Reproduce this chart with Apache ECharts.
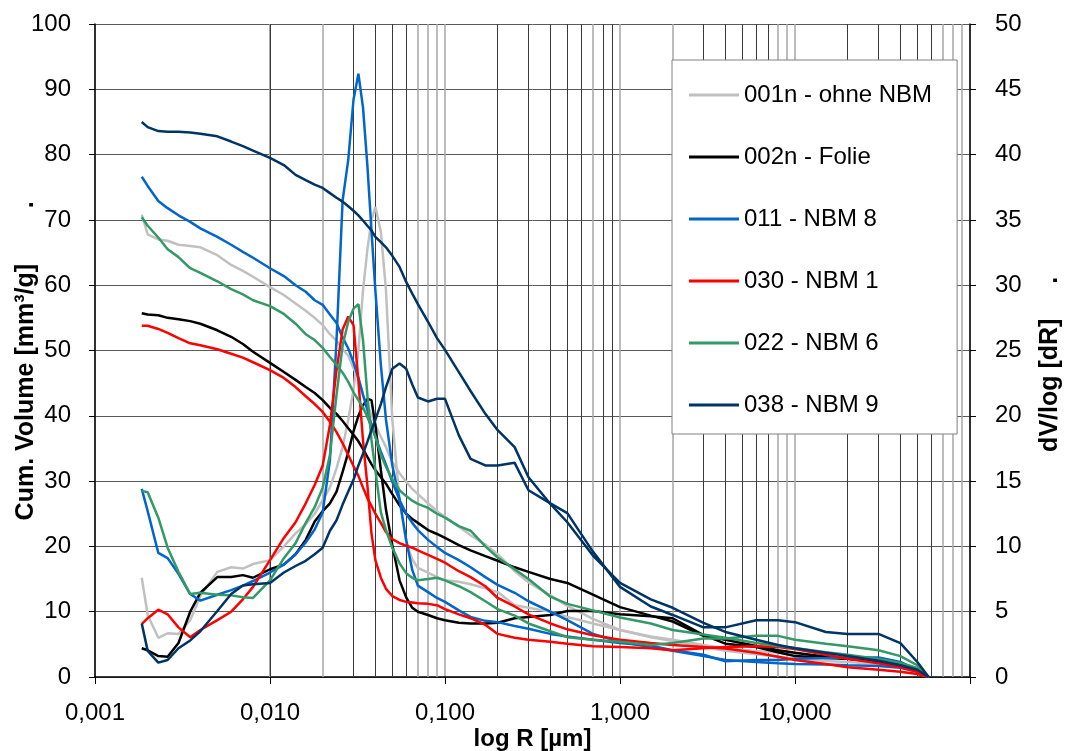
<!DOCTYPE html>
<html>
<head>
<meta charset="utf-8">
<script src="https://cdn.jsdelivr.net/npm/echarts@6/dist/echarts.min.js"></script>
<style>
html,body{margin:0;padding:0;background:#ffffff;}
#chart{width:1065px;height:751px;}
</style>
</head>
<body>
<div id="chart"></div>
<script>
// Pore radius R [µm] (shared sampling positions)
const radius = [0.00185, 0.002, 0.0023, 0.0026, 0.003, 0.0035, 0.004, 0.005, 0.006, 0.007,
  0.008, 0.01, 0.012, 0.014, 0.016, 0.018, 0.02, 0.022, 0.024, 0.026,
  0.028, 0.03, 0.032, 0.034, 0.036, 0.038, 0.04, 0.043, 0.046, 0.05,
  0.055, 0.06, 0.065, 0.07, 0.08, 0.09, 0.1, 0.12, 0.14, 0.17,
  0.2, 0.25, 0.3, 0.4, 0.5, 0.7, 1, 1.5, 2, 3,
  4, 6, 8, 10, 15, 20, 30, 40, 50, 58];

const sampleNames = ['001n - ohne NBM', '002n - Folie', '011 - NBM 8', '030 - NBM 1', '022 - NBM 6', '038 - NBM 9'];
const sampleColors = ['#c0c0c0', '#000000', '#0066cc', '#ff0000', '#339966', '#003366'];

// Cumulative volume [mm³/g] (left axis)
const cum001n = [70.8, 67.8, 67.0, 66.8, 66.2, 66.0, 65.8, 64.6, 63.1, 62.2,
  61.3, 59.7, 58.5, 57.2, 56.1, 55.0, 53.9, 52.5, 51.5, 50.2,
  49.2, 47.3, 45.8, 43.2, 41.7, 40.1, 38.6, 36.8, 35.2, 32.9,
  31.2, 29.9, 28.8, 28.0, 26.6, 25.4, 24.5, 23.0, 21.7, 20.3,
  18.8, 16.2, 14.5, 12.5, 10.9, 8.9, 7.2, 6.1, 5.5, 4.6,
  4.0, 3.5, 3.1, 2.8, 2.45, 2.3, 2.0, 1.7, 0.9, 0];
const cum002n = [55.7, 55.5, 55.4, 55.0, 54.8, 54.5, 54.1, 53.1, 52.1, 51.0,
  49.8, 48.1, 46.7, 45.5, 44.4, 43.5, 42.4, 41.2, 40.3, 39.2,
  38.1, 37.1, 36.1, 34.9, 33.7, 32.6, 31.7, 30.6, 29.6, 28.0,
  26.3, 25.0, 24.2, 23.6, 22.5, 21.9, 21.3, 20.2, 19.4, 18.5,
  17.8, 16.8, 16.1, 15.0, 14.4, 12.6, 10.7, 9.4, 8.5, 6.3,
  5.7, 4.75, 4.1, 3.7, 3.1, 2.8, 2.3, 1.8, 1.1, 0];
const cum011 = [76.6, 75.2, 72.9, 71.8, 70.7, 69.7, 68.7, 67.4, 66.2, 65.1,
  64.2, 62.6, 61.4, 60.0, 59.0, 57.7, 57.0, 55.5, 54.2, 52.0,
  50.3, 48.2, 45.8, 43.2, 40.9, 38.6, 36.8, 34.5, 32.5, 29.9,
  27.1, 25.0, 23.6, 22.5, 21.0, 19.9, 19.0, 17.9, 16.8, 15.3,
  14.1, 12.9, 11.6, 10.0, 8.7, 6.6, 5.4, 4.6, 4.0, 3.2,
  2.6, 2.3, 2.1, 2.0, 1.9, 1.8, 1.7, 1.4, 0.8, 0];
const cum030 = [53.8, 53.8, 53.3, 52.7, 51.9, 51.1, 50.8, 50.2, 49.5, 48.9,
  48.2, 47.0, 45.8, 44.4, 43.0, 41.8, 40.6, 39.1, 37.5, 35.8,
  34.0, 32.3, 30.8, 29.0, 27.4, 26.2, 25.0, 23.6, 22.2, 21.1,
  20.5, 20.1, 19.8, 19.4, 18.7, 18.1, 17.5, 16.2, 15.3, 13.9,
  12.1, 10.8, 9.6, 8.2, 7.3, 6.4, 5.7, 5.2, 4.9, 4.6,
  4.35, 3.7, 3.1, 2.6, 2.0, 1.5, 1.1, 0.8, 0.45, 0];
const cum022 = [70.4, 69.1, 67.3, 65.5, 64.3, 62.6, 61.9, 60.6, 59.4, 58.6,
  57.7, 56.8, 55.6, 54.1, 52.5, 51.6, 50.4, 49.0, 47.8, 46.6,
  45.2, 43.6, 42.4, 41.3, 39.8, 38.3, 36.8, 34.0, 32.2, 30.3,
  28.6, 27.7, 27.0, 26.5, 25.9, 25.0, 24.4, 23.1, 22.4, 20.0,
  18.3, 16.5, 15.0, 12.3, 11.2, 10.2, 9.1, 8.2, 7.2, 6.5,
  6.0, 5.2, 4.75, 4.45, 3.8, 3.4, 2.75, 2.15, 1.4, 0];
const cum038 = [85.0, 84.2, 83.6, 83.5, 83.5, 83.4, 83.2, 82.8, 82.0, 81.3,
  80.6, 79.5, 78.4, 76.9, 76.1, 75.4, 74.9, 74.1, 73.4, 72.8,
  72.1, 71.4, 70.7, 69.9, 69.1, 68.4, 67.4, 66.6, 65.8, 64.5,
  62.8, 60.5, 58.7, 57.1, 54.4, 51.9, 50.1, 46.7, 43.8, 40.3,
  37.8, 35.2, 30.6, 26.5, 23.7, 18.6, 14.4, 11.9, 10.6, 8.3,
  6.9, 5.7, 4.9, 4.4, 3.7, 3.2, 2.5, 1.8, 1.1, 0];

// dV/log(dR) distribution (right axis)
const dist001n = [7.6, 4.75, 3.0, 3.35, 3.3, 4.35, 6.2, 8.05, 8.4, 8.3,
  8.65, 8.95, 10.0, 11.0, 11.7, 12.5, 13.55, 14.5, 16.0, 17.6,
  19.7, 22.0, 25.0, 29.6, 32.7, 35.0, 36.0, 34.1, 29.6, 19.7,
  13.55, 10.3, 9.0, 8.35, 8.0, 7.65, 7.4, 7.3, 7.1, 6.8,
  6.5, 5.5, 5.3, 5.0, 4.6, 4.1, 3.6, 3.1, 2.85, 2.45,
  2.2, 2.0, 1.85, 1.7, 1.55, 1.4, 1.2, 1.0, 0.55, 0];
const dist002n = [2.2, 2.05, 1.6, 1.55, 2.6, 5.0, 6.45, 7.65, 7.65, 7.8,
  7.6, 8.25, 8.6, 9.4, 10.5, 11.9, 12.7, 13.3, 14.2, 15.7,
  17.2, 18.8, 20.0, 20.8, 21.3, 21.2, 19.3, 15.85, 12.8, 10.1,
  7.4, 6.1, 5.3, 5.0, 4.75, 4.5, 4.35, 4.15, 4.1, 4.1,
  4.15, 4.5, 4.6, 4.75, 5.05, 5.05, 4.8, 4.65, 4.5, 3.2,
  2.55, 2.3, 1.9, 1.6, 1.45, 1.4, 1.2, 1.0, 0.55, 0];
const dist011 = [14.4, 12.7, 9.5, 9.1, 7.9, 6.35, 5.85, 6.3, 6.65, 7.0,
  7.35, 8.0, 8.6, 9.4, 10.3, 11.3, 12.6, 16.6, 25.8, 36.5,
  39.6, 44.2, 46.2, 43.6, 39.2, 34.2, 29.6, 23.9, 19.7, 16.2,
  13.6, 10.5, 8.2, 7.0, 6.5, 6.05, 5.75, 5.1, 4.6, 4.3,
  4.2, 3.9, 3.7, 3.3, 3.1, 2.85, 2.6, 2.4, 2.05, 1.7,
  1.2, 1.3, 1.3, 1.4, 1.45, 1.5, 1.5, 1.15, 0.55, 0];
const dist030 = [4.05, 4.5, 5.15, 4.8, 3.8, 3.05, 3.6, 4.35, 5.0, 5.95,
  6.9, 8.95, 10.65, 11.85, 13.3, 14.7, 16.2, 19.3, 23.5, 26.6,
  27.6, 26.95, 22.7, 18.1, 14.7, 11.0, 8.95, 7.6, 6.75, 6.2,
  5.9, 5.75, 5.7, 5.65, 5.6, 5.5, 5.2, 4.8, 4.5, 4.0,
  3.3, 3.0, 2.85, 2.7, 2.55, 2.35, 2.3, 2.2, 2.05, 2.2,
  2.3, 2.35, 2.3, 2.15, 1.7, 1.4, 1.05, 0.75, 0.4, 0];
const dist022 = [14.25, 14.15, 12.2, 9.9, 8.05, 6.35, 6.45, 6.3, 6.25, 6.1,
  6.05, 7.4, 9.1, 10.25, 11.8, 13.0, 14.5, 17.0, 21.6, 25.4,
  27.2, 28.2, 28.55, 25.8, 21.6, 18.15, 15.85, 12.6, 11.25, 9.9,
  8.7, 7.95, 7.6, 7.4, 7.5, 7.6, 7.4, 6.95, 6.5, 5.8,
  5.2, 4.7, 4.1, 3.5, 3.05, 2.85, 2.7, 2.45, 2.6, 2.95,
  2.95, 3.15, 3.15, 2.85, 2.55, 2.35, 2.05, 1.6, 0.9, 0];
const dist038 = [4.1, 2.0, 1.1, 1.3, 2.2, 2.8, 3.5, 5.05, 6.35, 7.0,
  7.1, 7.2, 8.0, 8.5, 8.9, 9.4, 9.9, 11.2, 12.0, 13.2,
  14.2, 15.1, 16.2, 17.1, 18.0, 18.9, 19.7, 20.9, 22.2, 23.6,
  24.0, 23.6, 22.4, 21.4, 21.1, 21.3, 21.3, 18.5, 16.7, 16.2,
  16.2, 16.4, 14.3, 13.3, 12.55, 9.6, 6.9, 5.4, 4.75, 3.8,
  3.8, 4.35, 4.35, 4.2, 3.45, 3.3, 3.3, 2.6, 1.15, 0];

const cumulative = [cum001n, cum002n, cum011, cum030, cum022, cum038];
const distribution = [dist001n, dist002n, dist011, dist030, dist022, dist038];

// x-axis: decade ticks and in-between grid lines
const decadeStarts = [0.001, 0.01, 0.1, 1, 10];
const minorMultipliers = [2, 3, 4, 5, 6, 7, 8, 9];
const lightGridValues = [0.002, 0.006, 0.008, 0.02, 0.07, 0.08, 0.09, 0.7, 2, 8, 9, 70, 80, 90];

const FONT = "'Liberation Sans', Arial, Helvetica, sans-serif";

const minorGridData = [];
decadeStarts.forEach(function (d) {
  minorMultipliers.forEach(function (m) {
    const v = Number((m * d).toPrecision(6));
    const light = lightGridValues.indexOf(v) >= 0;
    minorGridData.push({
      xAxis: v,
      lineStyle: light ? { color: '#a6a6a6', width: 1.5, type: 'solid' }
                       : { color: '#3a3a3a', width: 1, type: 'solid' }
    });
  });
});

function pairs(values) {
  return radius.map(function (r, i) { return [r, values[i]]; });
}

const series = [];
sampleNames.forEach(function (name, k) {
  series.push({
    name: name, type: 'line', xAxisIndex: 0, yAxisIndex: 0,
    data: pairs(cumulative[k]), symbol: 'none', showSymbol: false,
    lineStyle: { color: sampleColors[k], width: 2.5 },
    itemStyle: { color: sampleColors[k] },
    z: 3, animation: false
  });
  series.push({
    name: name, type: 'line', xAxisIndex: 0, yAxisIndex: 1,
    data: pairs(distribution[k]), symbol: 'none', showSymbol: false,
    lineStyle: { color: sampleColors[k], width: 2.5 },
    itemStyle: { color: sampleColors[k] },
    z: 3, animation: false
  });
});
// helper carrying the in-between vertical grid lines
series.push({
  name: 'grid', type: 'line', xAxisIndex: 0, yAxisIndex: 0, data: [],
  silent: true, animation: false,
  markLine: {
    silent: true, symbol: ['none', 'none'], label: { show: false },
    z: 1, animation: false,
    emphasis: { disabled: true },
    data: minorGridData
  }
});

const chart = echarts.init(document.getElementById('chart'), null, { renderer: 'canvas' });
chart.setOption({
  backgroundColor: '#ffffff',
  animation: false,
  textStyle: { fontFamily: FONT },
  grid: { left: 95, right: 95, top: 24, bottom: 74, containLabel: false, outerBoundsMode: 'none' },
  legend: {
    data: sampleNames,
    orient: 'vertical',
    left: 672, top: 60,
    icon: 'rect',
    itemWidth: 50, itemHeight: 3, itemGap: 34,
    padding: [21, 25, 15, 17],
    backgroundColor: '#ffffff',
    borderColor: '#808080', borderWidth: 1, borderRadius: 0,
    selectedMode: false,
    textStyle: { fontSize: 24, fontFamily: FONT, color: '#000000', lineHeight: 28 },
    z: 6
  },
  xAxis: {
    type: 'log', logBase: 10, min: 0.001, max: 100,
    name: 'log R [µm]', nameLocation: 'middle', nameGap: 50, nameMoveOverlap: false,
    nameTextStyle: { fontSize: 24, fontWeight: 'bold', fontFamily: FONT, color: '#000' },
    axisLine: { show: true, onZero: false, lineStyle: { color: '#000', width: 1.5 } },
    axisTick: { show: true, length: 7, lineStyle: { color: '#000', width: 1 } },
    axisLabel: {
      fontSize: 24, fontFamily: FONT, color: '#000', margin: 24,
      formatter: function (v) { return v >= 99 ? '' : v.toFixed(3).replace('.', ','); }
    },
    splitLine: { show: true, lineStyle: { color: '#a6a6a6', width: 1.5 } }
  },
  yAxis: [
    {
      type: 'value', min: 0, max: 100, interval: 10, position: 'left',
      name: 'Cum. Volume [mm³/g]        .   ', nameLocation: 'middle', nameRotate: 90, nameGap: 56,
      nameMoveOverlap: false,
      nameTextStyle: { fontSize: 25, fontWeight: 'bold', fontFamily: FONT, color: '#000' },
      axisLine: { show: true, lineStyle: { color: '#000', width: 1.5 } },
      axisTick: { show: true, length: 6, lineStyle: { color: '#000' } },
      axisLabel: { fontSize: 24, fontFamily: FONT, color: '#000', margin: 24 },
      splitLine: { show: true, lineStyle: { color: '#5a5a5a', width: 1 } }
    },
    {
      type: 'value', min: 0, max: 50, interval: 5, position: 'right',
      name: 'dV/log [dR]     .    ', nameLocation: 'middle', nameRotate: 90, nameGap: 68,
      nameMoveOverlap: false,
      nameTextStyle: { fontSize: 25, fontWeight: 'bold', fontFamily: FONT, color: '#000' },
      axisLine: { show: true, lineStyle: { color: '#000', width: 1.5 } },
      axisTick: { show: true, length: 6, lineStyle: { color: '#000' } },
      axisLabel: { fontSize: 24, fontFamily: FONT, color: '#000', margin: 25 },
      splitLine: { show: false }
    }
  ],
  series: series
});
</script>
</body>
</html>
